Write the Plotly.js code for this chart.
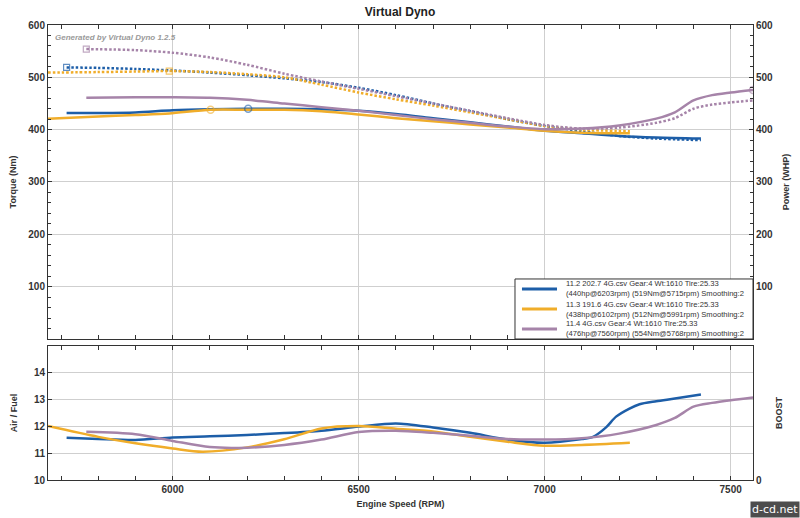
<!DOCTYPE html>
<html>
<head>
<meta charset="utf-8">
<script src="https://cdn.plot.ly/plotly-3.0.1.min.js"></script>
<style>html,body{margin:0;padding:0;background:#fff;}#chart{width:800px;height:518px;}</style>
</head>
<body>
<div id="chart"></div>
<script>
// ---- Data ----
var seriesLine1 = [
  "11.2 202.7 4G.csv Gear:4 Wt:1610 Tire:25.33",
  "11.3 191.6 4G.csv Gear:4 Wt:1610 Tire:25.33",
  "11.4 4G.csv Gear:4 Wt:1610 Tire:25.33"
];
var seriesLine2 = [
  "(440hp@6203rpm) (519Nm@5715rpm) Smoothing:2",
  "(438hp@6102rpm) (512Nm@5991rpm) Smoothing:2",
  "(476hp@7560rpm) (554Nm@5768rpm) Smoothing:2"
];

var rpmBlue   = [5715,5800,5900,6000,6100,6203,6300,6400,6500,6600,6700,6800,6900,7000,7100,7200,7300,7420];
var hpBlue    = [432,432,433,437,439,440,440,439,436,430,422,414,406,398,393,388,385,383];
var tqBlue    = [519,518,516,513,509,504,498,491,480,466,450,435,420,407,397,388,383,380];

var rpmOrange = [5665,5800,5900,5991,6102,6200,6300,6400,6500,6600,6700,6800,6900,7000,7100,7229];
var hpOrange  = [421,425,428,431,438,438,438,435,429,422,416,410,404,398,394,393];
var tqOrange  = [509,510,511,512,510,506,500,486,471,458,446,433,420,407,400,397];

var rpmPurple = [5768,5900,6000,6100,6200,6300,6400,6500,6600,6700,6800,6900,7000,7100,7200,7300,7350,7400,7450,7500,7560];
var hpPurple  = [461,462,462,461,457,450,443,436,428,420,413,406,401,402,408,421,433,456,466,471,476];
var tqPurple  = [554,552,547,538,524,507,492,478,464,450,436,422,409,402,404,413,422,440,448,452,456];

var afrRpmBlue   = [5715,5800,5900,6000,6100,6200,6300,6400,6500,6600,6700,6800,6900,7000,7100,7130,7165,7192,7228,7255,7300,7350,7420];
var afrBlue      = [11.57,11.52,11.48,11.58,11.62,11.67,11.74,11.83,11.98,12.1,11.95,11.75,11.5,11.38,11.52,11.6,11.95,12.35,12.65,12.81,12.92,13.02,13.17];
var afrRpmOrange = [5665,5800,5900,6000,6080,6200,6300,6400,6500,6600,6700,6800,6900,7000,7100,7229];
var afrOrange    = [12.0,11.6,11.36,11.17,11.05,11.21,11.51,11.91,12.0,11.9,11.8,11.6,11.42,11.27,11.3,11.38];
var afrRpmPurple = [5768,5900,6000,6100,6200,6300,6400,6500,6600,6700,6800,6900,7000,7100,7200,7300,7350,7400,7450,7500,7560];
var afrPurple    = [11.79,11.7,11.45,11.22,11.2,11.3,11.5,11.78,11.83,11.75,11.64,11.52,11.5,11.55,11.72,12.04,12.3,12.72,12.86,12.96,13.06];

var xTicks = [6000,6500,7000,7500];
var torqueTicks = [100,200,300,400,500,600];
var afrTicks = [10,11,12,13,14];

// ---- Styles ----
var colors = ["#1d5ea8", "#f0ad2a", "#a684a9"];
var rpmSets = [rpmBlue, rpmOrange, rpmPurple];
var hpSets = [hpBlue, hpOrange, hpPurple];
var tqSets = [tqBlue, tqOrange, tqPurple];
var afrRpmSets = [afrRpmBlue, afrRpmOrange, afrRpmPurple];
var afrSets = [afrBlue, afrOrange, afrPurple];

function peakIndex(arr){ var m=0; for(var i=1;i<arr.length;i++){ if(arr[i]>arr[m]) m=i; } return m; }

var traces = [];
for (var s=0; s<3; s++){
  traces.push({x: rpmSets[s], y: tqSets[s], type:'scatter', mode:'lines', xaxis:'x', yaxis:'y',
    line:{color:colors[s], width:2.5, dash:'2.5px,2px', shape:'spline', smoothing:0.8}, showlegend:false, hoverinfo:'skip'});
}
for (var s=0; s<3; s++){
  traces.push({x: rpmSets[s], y: hpSets[s], type:'scatter', mode:'lines', xaxis:'x', yaxis:'y',
    name: seriesLine1[s] + ' ' + seriesLine2[s],
    line:{color:colors[s], width:2.5, shape:'spline', smoothing:0.8}, showlegend:false});
}
for (var s=0; s<3; s++){
  var pt = peakIndex(tqSets[s]); var ph = peakIndex(hpSets[s]);
  traces.push({x:[rpmSets[s][pt]], y:[tqSets[s][pt]], type:'scatter', mode:'markers', xaxis:'x', yaxis:'y',
    marker:{symbol:'square-open', size:6, color:colors[s], opacity:0.7, line:{width:1.2}}, showlegend:false, hoverinfo:'skip'});
  traces.push({x:[rpmSets[s][ph]], y:[hpSets[s][ph]], type:'scatter', mode:'markers', xaxis:'x', yaxis:'y',
    marker:{symbol:'circle-open', size:7, color:colors[s], opacity:0.6, line:{width:1.5}}, showlegend:false, hoverinfo:'skip'});
}
for (var s=0; s<3; s++){
  traces.push({x: afrRpmSets[s], y: afrSets[s], type:'scatter', mode:'lines', xaxis:'x2', yaxis:'y3',
    line:{color:colors[s], width:2.5, shape:'spline', smoothing:0.8}, showlegend:false});
}

var tickFont = {family:'Liberation Sans, Arial, sans-serif', size:10, color:'#333', weight:'bold'};
var titleFont = {family:'Liberation Sans, Arial, sans-serif', size:9, color:'#333', weight:'bold'};
var legFont = {family:'Liberation Sans, Arial, sans-serif', size:7.6, color:'#333'};
var gridC = '#cfcfcf';
var xRange = [5665, 7560];

// legend box (paper coords), drawn as shapes + text
var shapes = [
  {type:'rect', xref:'paper', yref:'paper', x0:0.6624, x1:1.0, y0:0.3099, y1:0.4418,
   fillcolor:'#fff', line:{color:'#333', width:1}, layer:'above'}
];
var legY = [0.4198, 0.3758, 0.3319];
var annotations = [
  {text:'<i>Generated by Virtual Dyno 1.2.5</i>', xref:'paper', yref:'paper', x:0.007, y:0.987, xanchor:'left', yanchor:'top',
    showarrow:false, font:{family:'Liberation Sans, Arial, sans-serif', size:8, color:'#9a9a9a', weight:'bold'}},
  {text:'d-cd.net', xref:'paper', yref:'paper', x:1.0667, y:-0.0655, xanchor:'right', yanchor:'middle',
    showarrow:false, bgcolor:'#4d4d4d', borderpad:1, font:{family:'DejaVu Sans, sans-serif', size:11, color:'#fff'}}
];
for (var s=0; s<3; s++){
  shapes.push({type:'line', xref:'paper', yref:'paper', x0:0.6723, x1:0.722, y0:legY[s], y1:legY[s],
    line:{color:colors[s], width:3}, layer:'above'});
  annotations.push({text:seriesLine1[s] + '<br>' + seriesLine2[s], xref:'paper', yref:'paper', x:0.7333, y:legY[s],
    xanchor:'left', yanchor:'middle', align:'left', borderpad:0, showarrow:false, font:legFont});
}

var layout = {
  width:800, height:518,
  paper_bgcolor:'#fff', plot_bgcolor:'#fff',
  margin:{l:48, r:47, t:25, b:38},
  title:{text:'Virtual Dyno', x:0.5, xanchor:'center', y:0.978, yanchor:'middle',
    font:{family:'Liberation Sans, Arial, sans-serif', size:12, color:'#222', weight:'bold'}},
  showlegend:false,
  xaxis:{domain:[0,1], anchor:'y', range:xRange, tickmode:'array', tickvals:xTicks, showticklabels:false,
    ticks:'inside', ticklen:4, tickcolor:'#333', showgrid:true, gridcolor:gridC, gridwidth:1,
    showline:true, linecolor:'#333', linewidth:1, mirror:'allticks', zeroline:false,
    minor:{tickmode:'linear', tick0:5500, dtick:100, ticks:'inside', ticklen:4, tickcolor:'#333', showgrid:false}},
  xaxis2:{domain:[0,1], anchor:'y3', range:xRange, tickmode:'array', tickvals:xTicks, tickfont:tickFont,
    ticks:'inside', ticklen:4, tickcolor:'#333', showgrid:true, gridcolor:gridC, gridwidth:1,
    showline:true, linecolor:'#333', linewidth:1, mirror:'allticks', zeroline:false,
    minor:{tickmode:'linear', tick0:5500, dtick:100, ticks:'inside', ticklen:4, tickcolor:'#333', showgrid:false},
    title:{text:'Engine Speed (RPM)', font:titleFont, standoff:6}},
  yaxis:{domain:[0.31,1], anchor:'x', range:[0.01,600], tickmode:'array', tickvals:torqueTicks, tickfont:tickFont,
    ticks:'inside', ticklen:4, tickcolor:'#333', showgrid:true, gridcolor:gridC, gridwidth:1,
    showline:true, linecolor:'#333', linewidth:1, zeroline:false,
    minor:{tickmode:'linear', tick0:0, dtick:20, ticks:'inside', ticklen:3, tickcolor:'#333', showgrid:false},
    title:{text:'Torque (Nm)', font:titleFont, standoff:10}},
  yaxis2:{domain:[0.31,1], anchor:'x', overlaying:'y', side:'right', range:[0.01,600], tickmode:'array', tickvals:torqueTicks, tickfont:tickFont,
    ticks:'inside', ticklen:4, tickcolor:'#333', showgrid:false,
    showline:true, linecolor:'#333', linewidth:1, zeroline:false,
    minor:{tickmode:'linear', tick0:0, dtick:20, ticks:'inside', ticklen:3, tickcolor:'#333', showgrid:false},
    title:{text:'Power (WHP)', font:titleFont, standoff:10}},
  yaxis3:{domain:[0,0.2945], anchor:'x2', range:[10,14.97], tickmode:'array', tickvals:afrTicks, tickfont:tickFont,
    ticks:'inside', ticklen:4, tickcolor:'#333', showgrid:true, gridcolor:gridC, gridwidth:1,
    showline:true, linecolor:'#333', linewidth:1, zeroline:false,
    title:{text:'Air / Fuel', font:titleFont, standoff:14}},
  yaxis4:{domain:[0,0.2945], anchor:'x2', overlaying:'y3', side:'right', range:[0,1], tickmode:'array', tickvals:[0], tickfont:tickFont,
    ticks:'inside', ticklen:4, tickcolor:'#333', showgrid:false,
    showline:true, linecolor:'#333', linewidth:1, zeroline:false,
    title:{text:'BOOST', font:titleFont, standoff:14}},
  shapes: shapes,
  annotations: annotations
};

traces.push({x:[xRange[0]], y:[0.5], xaxis:'x2', yaxis:'y4', type:'scatter', mode:'markers', marker:{opacity:0}, showlegend:false, hoverinfo:'skip'});
traces.push({x:[xRange[0]], y:[300], xaxis:'x', yaxis:'y2', type:'scatter', mode:'markers', marker:{opacity:0}, showlegend:false, hoverinfo:'skip'});

Plotly.newPlot('chart', traces, layout, {displayModeBar:false, staticPlot:true});
</script>
</body>
</html>
